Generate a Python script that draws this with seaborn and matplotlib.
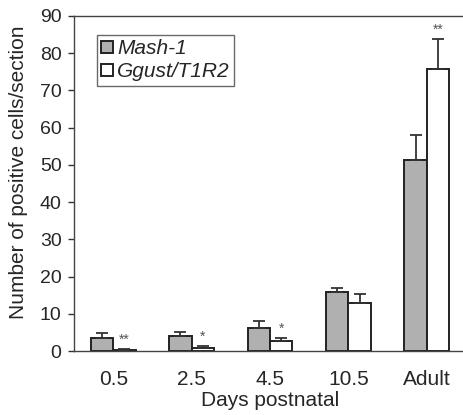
import matplotlib
matplotlib.use("Agg")
import matplotlib.pyplot as plt
import seaborn as sns
import pandas as pd
import numpy as np

categories = ["0.5", "2.5", "4.5", "10.5", "Adult"]
mash1 = [3.6, 3.9, 6.2, 15.9, 51.3]
mash1_err = [1.3, 1.1, 1.9, 1.0, 6.6]
ggust = [0.3, 0.9, 2.6, 13.0, 75.8]
ggust_err = [0.2, 0.4, 0.9, 2.3, 8.1]
ggust_sig = ["**", "*", "*", "", "**"]
series = ["Mash-1", "Ggust/T1R2"]

sns.set_theme(style="white")
plt.rcParams['font.family'] = ['Liberation Sans', 'DejaVu Sans']

df = pd.DataFrame({
    "day": categories * 2,
    "value": mash1 + ggust,
    "series": [series[0]] * len(categories) + [series[1]] * len(categories),
})

fig = plt.figure(figsize=(4.63, 4.15), dpi=100)
ax = fig.add_axes([74 / 463, (415 - 351) / 415, (466 - 74) / 463, 335 / 415])

sns.barplot(data=df, x="day", y="value", hue="series", order=categories,
            hue_order=series, palette=["#b0b0b0", "#ffffff"], width=0.57,
            edgecolor="#222222", linewidth=1.4, errorbar=None, ax=ax,
            saturation=1)

errs = mash1_err + ggust_err
vals = mash1 + ggust
bars = ax.patches[:len(vals)]
for p, v, e in zip(bars, vals, errs):
    xc = p.get_x() + p.get_width() / 2
    ax.errorbar(xc, v, yerr=[[0], [e]], fmt="none", ecolor="#333333",
                elinewidth=1.3, capsize=4, capthick=1.3)

gbars = bars[len(categories):]
for p, v, e, s in zip(gbars, ggust, ggust_err, ggust_sig):
    if s:
        xc = p.get_x() + p.get_width() / 2
        ax.text(xc, v + e + 0.6, s, ha="center", va="bottom", fontsize=10,
                color="#555555")

ax.set_ylim(0, 90)
ax.set_xlim(-0.5, 4.5)
ax.set_yticks(np.arange(0, 91, 10))
ax.set_xlabel("Days postnatal", fontsize=15)
ax.set_ylabel("Number of positive cells/section", fontsize=15)
ax.xaxis.set_label_coords(0.5, -0.12)
ax.yaxis.set_label_coords(-0.118, 0.535)
ax.tick_params(axis="y", which="both", left=True, length=4, width=1,
               color="#333333", labelsize=14, pad=5)
ax.tick_params(axis="x", bottom=False, labelsize=15, pad=8)
for sp in ["left", "bottom", "top", "right"]:
    ax.spines[sp].set_color("#444444")
    ax.spines[sp].set_linewidth(1.0)

leg = ax.legend(loc="upper left", bbox_to_anchor=(0.059, 0.943), frameon=True,
                fancybox=False, edgecolor="#444444", fontsize=15,
                handlelength=0.55, handleheight=0.55, handletextpad=0.2,
                borderpad=0.2, labelspacing=0.2, borderaxespad=0)
leg.get_frame().set_linewidth(1.0)
for t in leg.get_texts():
    t.set_fontstyle("italic")

fig.savefig("out.png", dpi=100)
